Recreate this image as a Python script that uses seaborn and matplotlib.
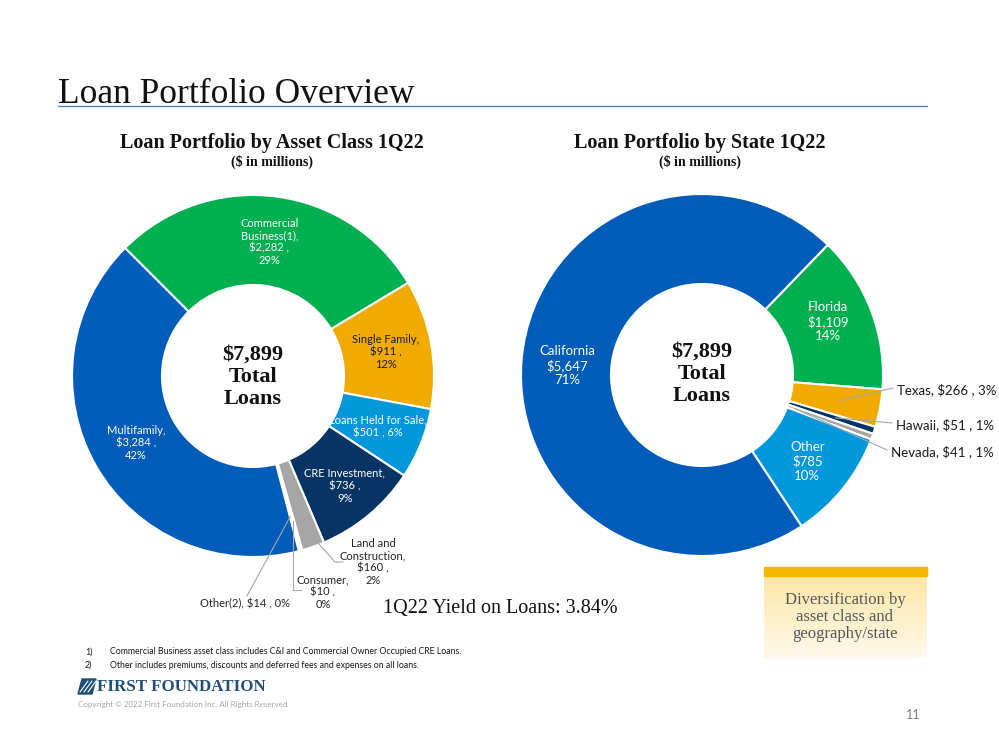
import numpy as np
import matplotlib.pyplot as plt
import seaborn as sns
from matplotlib.patches import Rectangle, Polygon

# --- data ($ in millions) ---
asset_names = ["Commercial\nBusiness(1),", "Single Family,", "Loans Held for Sale,",
               "CRE Investment,", "Land and\nConstruction,", "Consumer,", "Other(2),", "Multifamily,"]
asset_values = [2282, 911, 501, 736, 160, 10, 14, 3284]
asset_pcts = [29, 12, 6, 9, 2, 0, 0, 42]
asset_colors = ["#00B050", "#F0AA00", "#0098DA", "#063565", "#A6A6A6", "#DCE6F2", "#4A7EC8", "#005CB9"]

state_names = ["Florida", "Texas,", "Hawaii,", "Nevada,", "Other", "California"]
state_values = [1109, 266, 51, 41, 785, 5647]
state_pcts = [14, 3, 1, 1, 10, 71]
state_colors = ["#00B050", "#F0AA00", "#063565", "#A6A6A6", "#0098DA", "#005CB9"]

total = 7899
yield_1q22 = 3.84

sns.set_theme(style="white")
plt.rcParams['font.family'] = ['Lato', 'DejaVu Sans']
SERIF = ['Liberation Serif', 'DejaVu Serif']

W, H = 999, 750
fig = plt.figure(figsize=(W / 100, H / 100), dpi=100)
ax = fig.add_axes([0, 0, 1, 1])


def Y(y):
    # top-origin pixel -> axes coords
    return H - y


def pt(cx, cy, ang, r):
    a = np.deg2rad(ang)
    return cx + r * np.cos(a), Y(cy) + r * np.sin(a)


def mid(w):
    return (w.theta1 + w.theta2) / 2


# --- left donut: asset class ---
L_CX, L_CY, R = 253, 376, 181
wl, _ = ax.pie(asset_values, colors=asset_colors, startangle=135, counterclock=False,
               radius=R, center=(L_CX, Y(L_CY)),
               wedgeprops=dict(width=90, edgecolor="white", linewidth=1.5))

inside_left = {0: ("stack", "white"), 1: ("stack", "#1a1a1a"), 2: ("two", "white"),
               3: ("stack", "white"), 7: ("stack", "white")}
for i, (lay, col) in inside_left.items():
    name, v, p = asset_names[i], asset_values[i], asset_pcts[i]
    txt = f"{name}\n${v:,} ,\n{p}%" if lay == "stack" else f"{name}\n${v:,} , {p}%"
    r = 143 if i == 3 else 135
    x, y = pt(L_CX, L_CY, mid(wl[i]), r)
    ax.text(x, y, txt, ha="center", va="center", fontsize=8, color=col, linespacing=1.15)

lead = dict(color="#A6A6A6", lw=0.8)
# Land and Construction
x0, y0 = pt(L_CX, L_CY, mid(wl[4]), 165)
ax.plot([x0, 335, 343], [y0, Y(562), Y(562)], **lead)
ax.text(373, Y(562), f"Land and\nConstruction,\n${asset_values[4]:,} ,\n{asset_pcts[4]}%",
        ha="center", va="center", fontsize=8, color="#262626", linespacing=1.15)
# Consumer
x0, y0 = pt(L_CX, L_CY, mid(wl[5]), 150)
ax.plot([x0, x0, x0 + 8], [y0, Y(590), Y(590)], **lead)
ax.text(323, Y(592), f"Consumer,\n${asset_values[5]:,} ,\n{asset_pcts[5]}%",
        ha="center", va="center", fontsize=8, color="#262626", linespacing=1.15)
# Other(2)
x0, y0 = pt(L_CX, L_CY, mid(wl[6]), 145)
ax.plot([x0, 247], [y0, Y(596)], **lead)
ax.text(245, Y(604), f"Other(2), ${asset_values[6]:,} , {asset_pcts[6]}%",
        ha="center", va="center", fontsize=8, color="#262626")

ax.text(L_CX, Y(L_CY + 1), f"${total:,}\nTotal\nLoans", ha="center", va="center",
        fontsize=16, fontweight="bold", family=SERIF, color="#111111", linespacing=1.13)

# --- right donut: state ---
R_CX, R_CY = 702, 375
wr, _ = ax.pie(state_values, colors=state_colors, startangle=46, counterclock=False,
               radius=R, center=(R_CX, Y(R_CY)),
               wedgeprops=dict(width=90, edgecolor="white", linewidth=1.5))

for i, dy in ((0, 6), (4, -2), (5, -3)):
    x, y = pt(R_CX, R_CY, mid(wr[i]), 135)
    ax.text(x, y + dy, f"{state_names[i]}\n${state_values[i]:,}\n{state_pcts[i]}%",
            ha="center", va="center", fontsize=9.5, color="white", linespacing=1.2)

for i, rr, ex, ey in ((1, 140, 893, 388), (2, 140, 892, 423), (3, 100, 887, 450)):
    x0, y0 = pt(R_CX, R_CY, mid(wr[i]), rr)
    ax.plot([x0, ex], [y0, Y(ey)], **lead)
    ax.text(ex + 4, Y(ey + 2), f"{state_names[i]} ${state_values[i]:,} , {state_pcts[i]}%",
            ha="left", va="center", fontsize=9.5, color="#1a1a1a")

ax.text(R_CX, Y(R_CY - 1), f"${total:,}\nTotal\nLoans", ha="center", va="center",
        fontsize=16, fontweight="bold", family=SERIF, color="#111111", linespacing=1.13)

# --- titles ---
ax.text(58, Y(103), "Loan Portfolio Overview", ha="left", va="baseline",
        fontsize=25.5, family=SERIF, color="#111111")
ax.plot([58, 927], [Y(106), Y(106)], color="#4F81BD", lw=1)

ax.text(272, Y(143), "Loan Portfolio by Asset Class 1Q22", ha="center", va="center",
        fontsize=14.5, fontweight="bold", family=SERIF, color="#111111")
ax.text(272, Y(162), "($ in millions)", ha="center", va="center",
        fontsize=10, fontweight="bold", family=SERIF, color="#111111")
ax.text(700, Y(143), "Loan Portfolio by State 1Q22", ha="center", va="center",
        fontsize=14.5, fontweight="bold", family=SERIF, color="#111111")
ax.text(700, Y(162), "($ in millions)", ha="center", va="center",
        fontsize=10, fontweight="bold", family=SERIF, color="#111111")

ax.text(383, Y(608), f"1Q22 Yield on Loans: {yield_1q22:.2f}%", ha="left", va="center",
        fontsize=14.5, family=SERIF, color="#111111")

# --- callout box ---
grad = np.linspace(0, 1, 100).reshape(-1, 1)
ax.imshow(grad, extent=[764, 927, Y(658), Y(576)], aspect="auto", origin="upper",
          cmap=sns.blend_palette(["#FDE7A6", "#FFF9EC"], as_cmap=True), zorder=1)
ax.add_patch(Rectangle((764, Y(576)), 163, 9, color="#F5B800", zorder=2))
ax.text(845, Y(617), "Diversification by\nasset class and\ngeography/state", ha="center",
        va="center", fontsize=12, family=SERIF, color="#595959", linespacing=1.1, zorder=3)

# --- footnotes / footer ---
ax.text(85, Y(652), "1)", fontsize=6.3, va="center", color="#1a1a1a")
ax.text(110, Y(652), "Commercial Business asset class includes C&I and Commercial Owner Occupied CRE Loans.",
        fontsize=6.3, va="center", color="#1a1a1a")
ax.text(85, Y(665), "2)", fontsize=6.3, va="center", color="#1a1a1a")
ax.text(110, Y(665), "Other includes premiums, discounts and deferred fees and expenses on all loans.",
        fontsize=6.3, va="center", color="#1a1a1a")

ax.add_patch(Polygon([(78, Y(694)), (82, Y(679)), (96, Y(679)), (92, Y(694))],
                     closed=True, color="#1F4E79"))
for k in range(3):
    ax.plot([80 + 4 * k, 88 + 4 * k], [Y(692), Y(681)], color="white", lw=0.8)
ax.text(97, Y(687), "FIRST FOUNDATION", ha="left", va="center", fontsize=12.2,
        fontweight="bold", family=SERIF, color="#1F4E79")
ax.text(78, Y(705), "Copyright \u00a9 2022 First Foundation Inc. All Rights Reserved",
        fontsize=5.8, va="center", color="#A6A6A6")
ax.text(913, Y(715), "11", ha="center", va="center", fontsize=9, color="#7F7F7F")

ax.set_xlim(0, W)
ax.set_ylim(0, H)
ax.set_aspect("auto")
ax.axis("off")

fig.savefig("out.png", dpi=100)
